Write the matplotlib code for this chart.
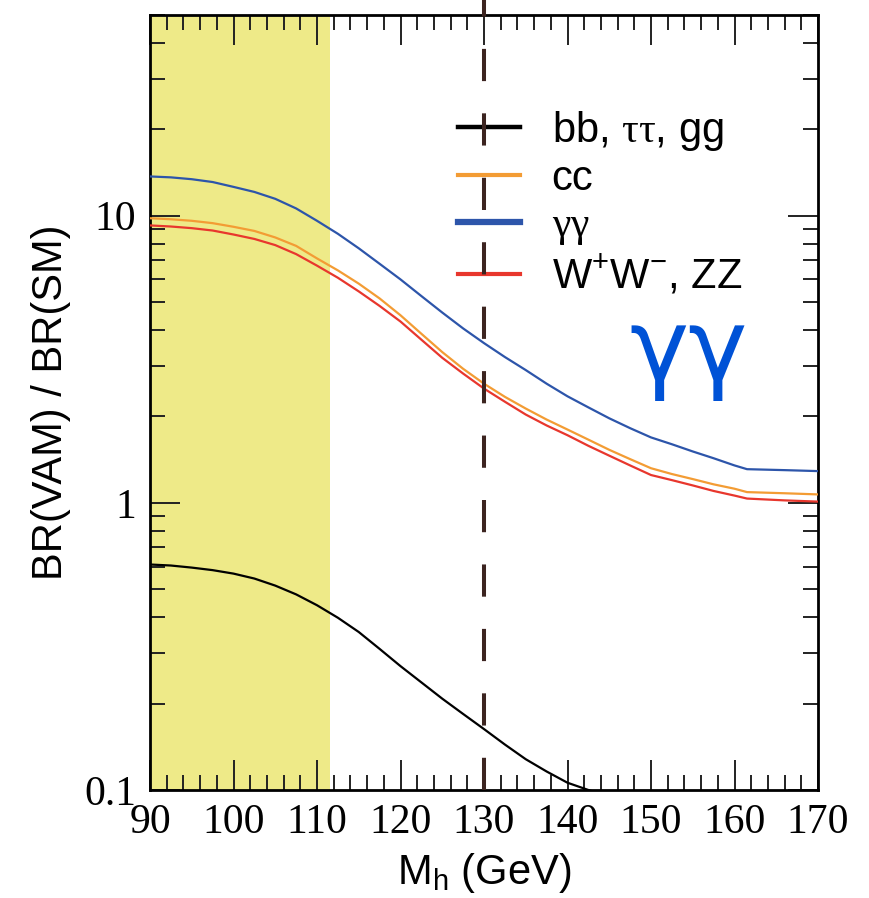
import matplotlib
matplotlib.use("Agg")
import matplotlib.pyplot as plt
from matplotlib.lines import Line2D
from matplotlib.ticker import MultipleLocator, LogLocator, FuncFormatter, NullFormatter

# Higgs mass grid (GeV) and BR(VAM)/BR(SM) ratios
mh = [90, 92.5, 95, 97.5, 100, 102.5, 105, 107.5, 110, 112.5, 115, 117.5, 120, 122.5,
      125, 127.5, 130, 132.5, 135, 137.5, 140, 142.5, 145, 147.5, 150, 152.5, 155,
      157.5, 160, 161.5, 166, 170]
br_gamgam = [13.7, 13.6, 13.4, 13.1, 12.6, 12.1, 11.45, 10.6, 9.6, 8.65, 7.7, 6.8, 6.0, 5.25,
             4.6, 4.05, 3.6, 3.22, 2.9, 2.6, 2.35, 2.15, 1.97, 1.82, 1.69, 1.6, 1.51,
             1.43, 1.35, 1.31, 1.30, 1.29]
br_cc = [9.8, 9.72, 9.6, 9.42, 9.15, 8.85, 8.4, 7.85, 7.1, 6.45, 5.8, 5.15, 4.5, 3.88,
         3.35, 2.93, 2.6, 2.34, 2.13, 1.95, 1.80, 1.66, 1.53, 1.42, 1.32, 1.26, 1.21,
         1.16, 1.12, 1.09, 1.08, 1.07]
br_ww = [9.25, 9.17, 9.05, 8.88, 8.6, 8.3, 7.9, 7.35, 6.7, 6.08, 5.45, 4.85, 4.28, 3.7,
         3.2, 2.82, 2.5, 2.25, 2.03, 1.86, 1.72, 1.58, 1.46, 1.35, 1.25, 1.2, 1.15,
         1.1, 1.06, 1.035, 1.02, 1.01]

mh_bb = [90, 92.5, 95, 97.5, 100, 102.5, 105, 107.5, 110, 112.5, 115, 117.5, 120, 122.5,
         125, 127.5, 130, 132.5, 135, 137.5, 140, 142.5, 145]
br_bb = [0.61, 0.605, 0.595, 0.583, 0.567, 0.545, 0.515, 0.48, 0.44, 0.398, 0.355, 0.31, 0.27, 0.237,
         0.208, 0.184, 0.163, 0.144, 0.128, 0.116, 0.106, 0.1, 0.095]

excluded = (90, 111.5)   # shaded LEP-excluded band
mh_mark = 130            # dashed vertical marker

labels = [r"bb, $\mathrm{\tau\tau}$, gg", "cc", r"$\mathrm{\gamma\gamma}$",
          r"W$^{\mathsf{+}}$W$^{\mathsf{-}}$, ZZ"]
colors = ["black", "#f39c34", "#2d55aa", "#e8372d"]

plt.rcParams["mathtext.fontset"] = "custom"
plt.rcParams["mathtext.rm"] = "Liberation Serif"
plt.rcParams["mathtext.sf"] = "Liberation Sans"
plt.rcParams["mathtext.it"] = "Liberation Sans:italic"
plt.rcParams["font.family"] = ["Liberation Sans", "DejaVu Sans"]

fig = plt.figure(figsize=(8.70, 8.98), dpi=100)
ax = fig.add_axes([150 / 870, 1 - 790 / 898, 668 / 870, 775 / 898])

ax.axvspan(*excluded, color="#eeea88", lw=0, zorder=0)

ax.plot(mh_bb, br_bb, color=colors[0], lw=1.6, zorder=3)
ax.plot(mh, br_cc, color=colors[1], lw=1.6, zorder=3)
ax.plot(mh, br_gamgam, color=colors[2], lw=1.6, zorder=3)
ax.plot(mh, br_ww, color=colors[3], lw=1.6, zorder=3)

ax.axvline(mh_mark, ymin=0, ymax=1.019, color="#3c2420", lw=2.9,
           linestyle=(0, (8, 8)), clip_on=False, zorder=7)

ax.set_yscale("log")
ax.set_xlim(90, 170)
ax.set_ylim(0.1, 50)

ax.xaxis.set_major_locator(MultipleLocator(10))
ax.xaxis.set_minor_locator(MultipleLocator(2))
ax.yaxis.set_major_locator(LogLocator(base=10, numticks=10))
ax.yaxis.set_minor_locator(LogLocator(base=10, subs=range(2, 10), numticks=20))
ax.yaxis.set_major_formatter(FuncFormatter(lambda v, _: f"{v:g}"))
ax.yaxis.set_minor_formatter(NullFormatter())

ax.tick_params(which="both", direction="in", top=True, right=True, width=1.4, colors="#222222",
               labelcolor="black")
ax.tick_params(which="major", length=21.5, pad=10)
ax.tick_params(which="minor", length=11)
for lab in ax.get_xticklabels() + ax.get_yticklabels():
    lab.set_fontfamily("Liberation Serif")
    lab.set_fontsize(30)
for s in ax.spines.values():
    s.set_linewidth(2)

ax.set_xlabel(r"M$_{\mathsf{h}}$ (GeV)", fontsize=30, labelpad=6)
ax.set_ylabel("BR(VAM) / BR(SM)", fontsize=30)
ax.yaxis.set_label_coords(-0.118, 0.5)

handles = [Line2D([], [], color=colors[0], lw=3.2),
           Line2D([], [], color=colors[1], lw=3.0),
           Line2D([], [], color=colors[2], lw=4.5),
           Line2D([], [], color=colors[3], lw=3.0)]
ax.legend(handles, labels, loc="upper left", bbox_to_anchor=(0.461, 0.879),
          frameon=False, fontsize=30, handlelength=1.5, handletextpad=0.75,
          borderpad=0, borderaxespad=0, labelspacing=0.15)

ax.text(0.807, 0.529, "γγ", transform=ax.transAxes, ha="center", va="baseline",
        fontsize=72, color="#0052d6", family=["DejaVu Sans"])

fig.savefig("out.png", dpi=100)
